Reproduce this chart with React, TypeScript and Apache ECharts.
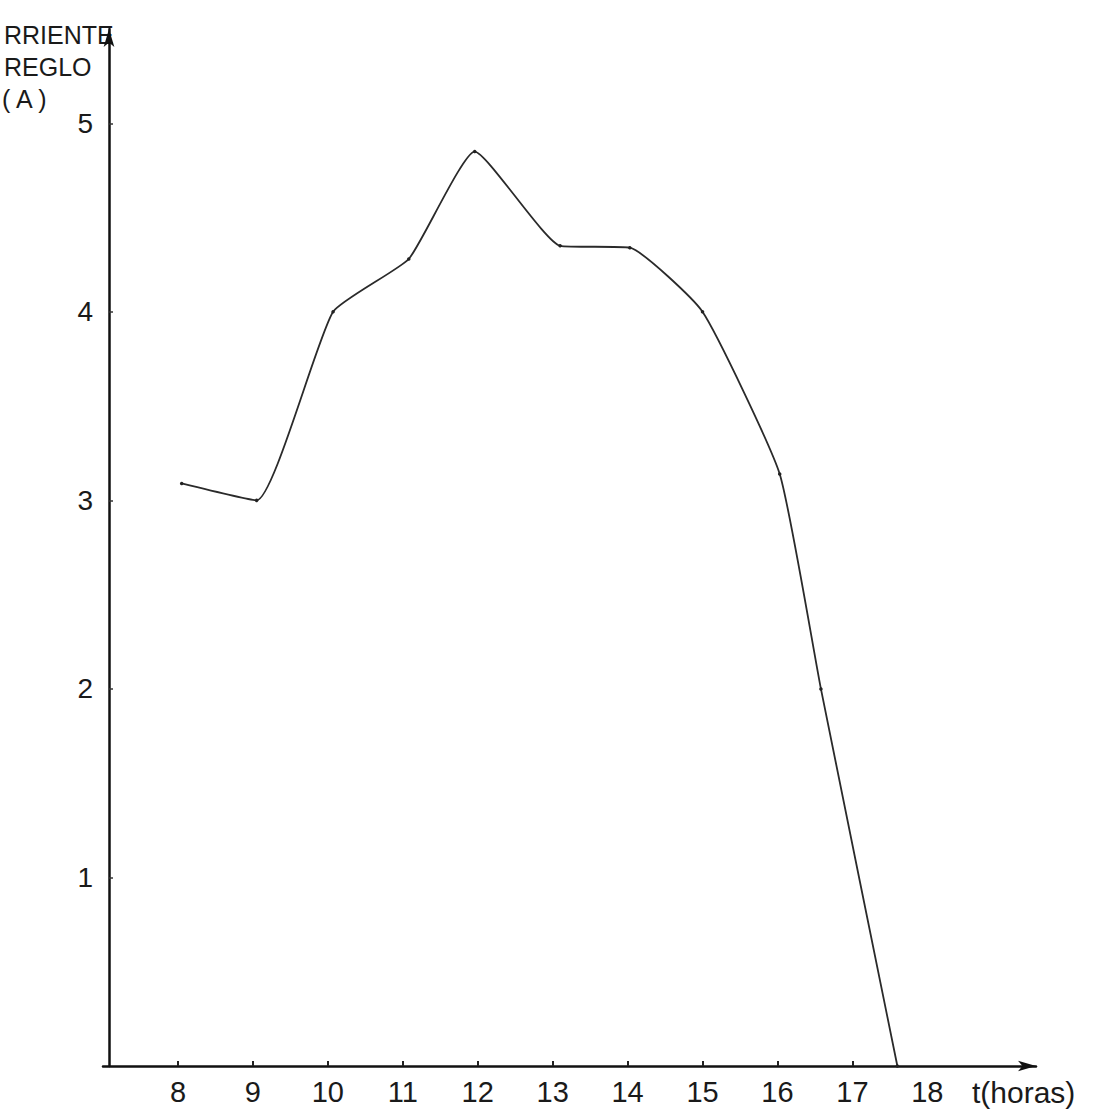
import React, { useEffect, useRef } from "react";
import * as echarts from "echarts";

const hours = [8.05, 9.05, 10.07, 11.08, 11.96, 13.1, 14.03, 15.0, 16.03, 16.58, 17.6];
const current = [3.09, 3.0, 4.0, 4.28, 4.85, 4.35, 4.34, 4.0, 3.14, 2.0, 0.0];
const xTickValues = [8, 9, 10, 11, 12, 13, 14, 15, 16, 17];
const xLabelValues = [8, 9, 10, 11, 12, 13, 14, 15, 16, 17, 18];
const yTickValues = [1, 2, 3, 4, 5];
const yTitleLines = ["RRIENTE", "REGLO", "( A )"];
const xTitle = "t(horas)";

export default function App() {
  const ref = useRef<HTMLDivElement>(null);
  useEffect(() => {
    document.body.style.margin = "0";
    const chart = echarts.init(ref.current!, null, { renderer: "svg" });
    const font = "Liberation Sans";
    chart.setOption({
      animation: false,
      backgroundColor: "#ffffff",
      grid: { left: 103, right: 57, top: 29, bottom: 47 },
      xAxis: {
        type: "value",
        min: 7,
        max: 19.45,
        interval: 1,
        splitLine: { show: false },
        axisLine: {
          show: true,
          lineStyle: { color: "#111", width: 2.5 },
          symbol: ["none", "arrow"],
          symbolSize: [8, 18],
        },
        axisTick: {
          show: true,
          inside: true,
          length: 5,
          lineStyle: { color: "#222", width: 2 },
          customValues: xTickValues,
        },
        axisLabel: {
          color: "#1a1a1a",
          fontFamily: font,
          fontSize: 29,
          margin: 11,
          customValues: xLabelValues,
        },
      },
      yAxis: {
        type: "value",
        min: 0,
        max: 5.5,
        interval: 1,
        offset: -6,
        splitLine: { show: false },
        axisLine: {
          show: true,
          lineStyle: { color: "#111", width: 2.5 },
          symbol: ["none", "arrow"],
          symbolSize: [8, 18],
        },
        axisTick: {
          show: true,
          inside: true,
          length: 4,
          lineStyle: { color: "#333", width: 1.5 },
          customValues: yTickValues,
        },
        axisLabel: {
          color: "#1a1a1a",
          fontFamily: font,
          fontSize: 28,
          margin: 16,
          customValues: yTickValues,
        },
      },
      graphic: [
        ...yTitleLines.map((t, i) => ({
          type: "text",
          left: i === 2 ? 2 : 4,
          top: 22 + i * 32,
          style: { text: t, fontFamily: font, fontSize: 25, fill: "#1a1a1a" },
        })),
        {
          type: "text",
          left: 972,
          top: 1077,
          style: { text: xTitle, fontFamily: font, fontSize: 30, fill: "#1a1a1a" },
        },
      ],
      series: [
        {
          type: "line",
          data: hours.map((h, i) => [h, current[i]]),
          smooth: 0.15,
          symbol: "circle",
          symbolSize: 3.5,
          itemStyle: { color: "#222" },
          lineStyle: { color: "#2a2a2a", width: 1.8 },
        },
      ],
    });
    return () => chart.dispose();
  }, []);
  return <div ref={ref} style={{ width: 1093, height: 1113 }} />;
}
